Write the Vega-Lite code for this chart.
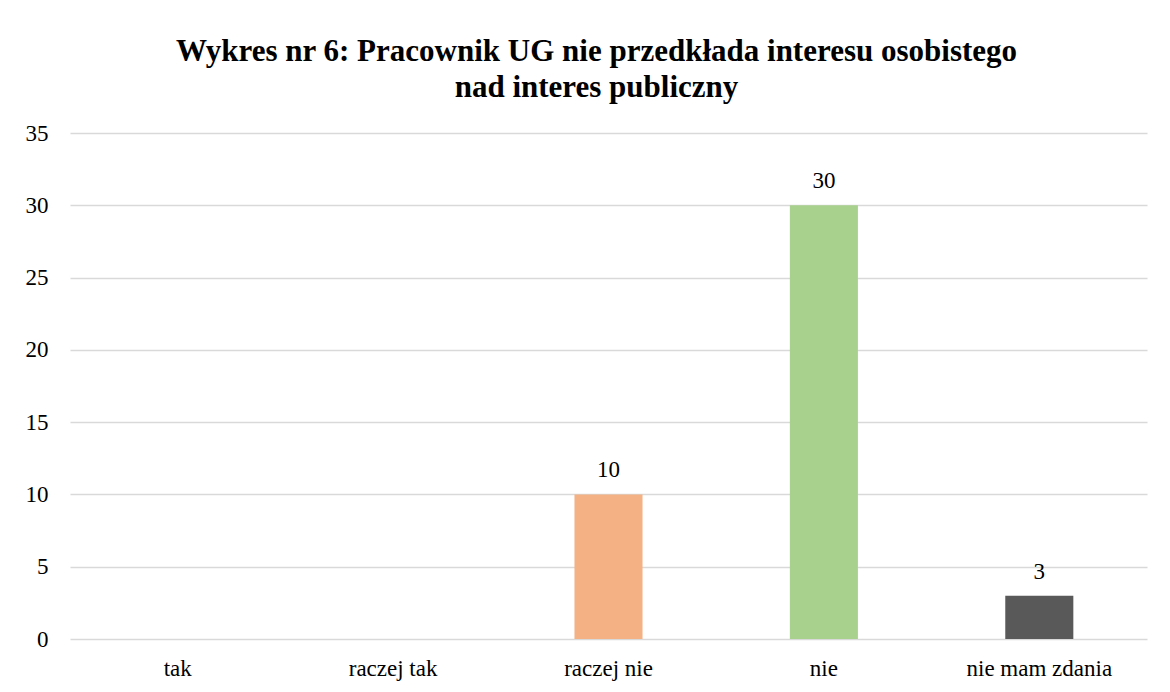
{
  "$schema": "https://vega.github.io/schema/vega-lite/v6.json",
  "width": 1077,
  "height": 506,
  "padding": {"left": 25, "right": 23, "top": 36, "bottom": 8},
  "background": "white",
  "title": {
    "text": ["Wykres nr 6: Pracownik UG nie przedkłada interesu osobistego", "nad interes publiczny"],
    "font": "Liberation Serif",
    "fontSize": 31,
    "fontWeight": "bold",
    "color": "#000000",
    "lineHeight": 36,
    "anchor": "middle",
    "dx": -12,
    "offset": 18
  },
  "data": {
    "values": [
      {"kategoria": "tak", "liczba": 0},
      {"kategoria": "raczej tak", "liczba": 0},
      {"kategoria": "raczej nie", "liczba": 10},
      {"kategoria": "nie", "liczba": 30},
      {"kategoria": "nie mam zdania", "liczba": 3}
    ]
  },
  "encoding": {
    "x": {
      "field": "kategoria",
      "type": "nominal",
      "sort": null,
      "scale": {"paddingInner": 0, "paddingOuter": 0},
      "axis": {
        "title": null,
        "labelAngle": 0,
        "labelFont": "Liberation Serif",
        "labelFontSize": 23,
        "labelColor": "#000000",
        "labelPadding": 18,
        "ticks": false,
        "domain": false
      }
    },
    "y": {
      "field": "liczba",
      "type": "quantitative",
      "scale": {"domain": [0, 35], "nice": false},
      "axis": {
        "title": null,
        "values": [0, 5, 10, 15, 20, 25, 30, 35],
        "labelFont": "Liberation Serif",
        "labelFontSize": 23,
        "labelColor": "#000000",
        "labelPadding": 22,
        "ticks": false,
        "domain": false,
        "grid": true,
        "gridColor": "#D9D9D9",
        "gridWidth": 1.5
      }
    }
  },
  "layer": [
    {
      "mark": {"type": "bar", "width": {"band": 0.316}},
      "encoding": {
        "color": {
          "field": "kategoria",
          "type": "nominal",
          "scale": {
            "domain": ["tak", "raczej tak", "raczej nie", "nie", "nie mam zdania"],
            "range": ["#5B9BD5", "#A5A5A5", "#F4B183", "#A9D18E", "#595959"]
          },
          "legend": null
        }
      }
    },
    {
      "transform": [{"filter": "datum.liczba > 0"}],
      "mark": {
        "type": "text",
        "baseline": "bottom",
        "dy": -12,
        "font": "Liberation Serif",
        "fontSize": 23,
        "color": "#000000"
      },
      "encoding": {
        "text": {"field": "liczba", "type": "quantitative"}
      }
    }
  ],
  "config": {
    "view": {"stroke": null}
  }
}
